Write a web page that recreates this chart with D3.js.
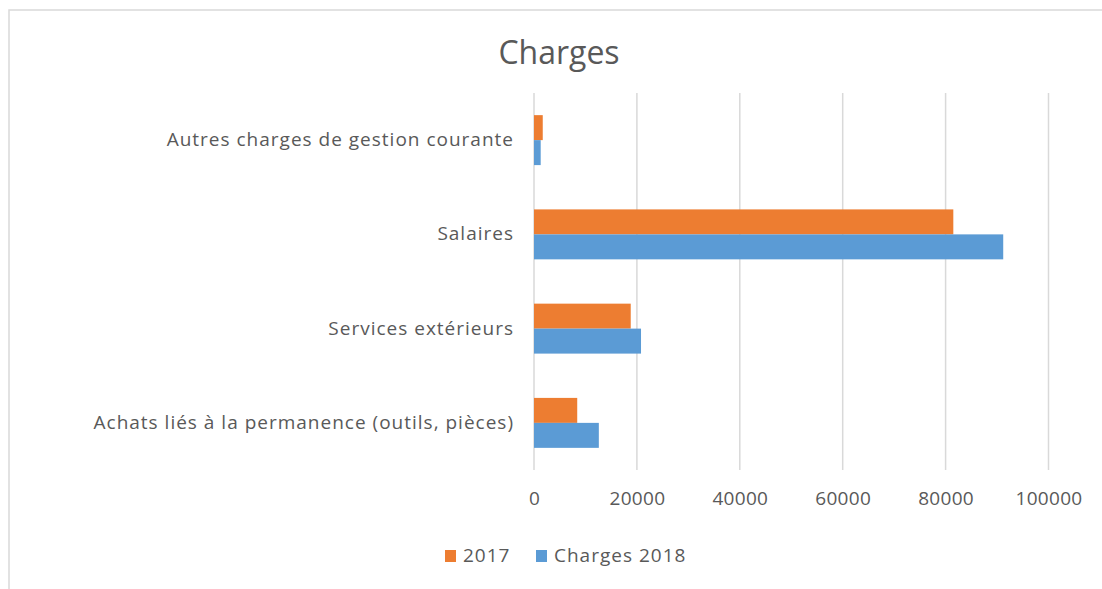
<!DOCTYPE html>
<html>
<head>
<meta charset="utf-8">
<script src="https://cdn.jsdelivr.net/npm/d3@7"></script>
<style>
    body { margin: 0; background: #fff; }
    text { font-family: "Open Sans", "Liberation Sans", sans-serif; fill: #595959; }
</style>
</head>
<body>
<div id="chart"></div>
<script>
// categories, top to bottom as drawn
var categories = [
    "Autres charges de gestion courante",
    "Salaires",
    "Services extérieurs",
    "Achats liés à la permanence (outils, pièces)"
];
var seriesNames = ["2017", "Charges 2018"];
var values2017 = [1700, 81500, 18800, 8400];
var values2018 = [1300, 91200, 20800, 12600];
var xTicks = [0, 20000, 40000, 60000, 80000, 100000];
var colors = ["#ED7D31", "#5B9BD5"];

var width = 1102,
    height = 589;

var svg = d3.select("#chart").append("svg")
    .attr("width", width)
    .attr("height", height);

// chart frame (only top and left edges are visible in the picture)
svg.append("rect")
    .attr("x", 9)
    .attr("y", 10)
    .attr("width", 1200)
    .attr("height", 1000)
    .attr("fill", "none")
    .attr("stroke", "#d9d9d9")
    .attr("stroke-width", 1.5);

var x = d3.scaleLinear().domain([0, 100000]).range([534, 1048.5]);

var y = d3.scaleBand()
    .domain(categories)
    .range([93, 470])
    .paddingInner(0.47)
    .paddingOuter(0.235);

var ySub = d3.scaleBand()
    .domain(seriesNames)
    .range([0, y.bandwidth()]);

var rows = categories.map(function (c, i) {
    return {
        name: c,
        values: [
            { series: seriesNames[0], value: values2017[i], color: colors[0] },
            { series: seriesNames[1], value: values2018[i], color: colors[1] }
        ]
    };
});

// gridlines
svg.append("g")
    .selectAll("line")
    .data(xTicks)
    .join("line")
    .attr("x1", d => x(d))
    .attr("x2", d => x(d))
    .attr("y1", 93)
    .attr("y2", 470)
    .attr("stroke", "#d9d9d9")
    .attr("stroke-width", 1.5);

// bars
svg.append("g")
    .selectAll("g")
    .data(rows)
    .join("g")
    .attr("transform", d => "translate(0," + y(d.name) + ")")
    .selectAll("rect")
    .data(d => d.values)
    .join("rect")
    .attr("x", x(0))
    .attr("y", d => ySub(d.series))
    .attr("width", d => x(d.value) - x(0))
    .attr("height", ySub.bandwidth())
    .attr("fill", d => d.color);

// x axis labels
var xAxis = svg.append("g")
    .attr("transform", "translate(0,470)")
    .call(d3.axisBottom(x).tickValues(xTicks).tickFormat(d3.format("d")).tickSize(0).tickPadding(22));
xAxis.select(".domain").remove();
xAxis.selectAll("text")
    .attr("fill", "#595959")
    .style("font-size", "19px")
    .style("letter-spacing", "0.3px")
    .style("font-family", "'Open Sans', sans-serif");

// category labels
var yAxis = svg.append("g")
    .attr("transform", "translate(534,0)")
    .call(d3.axisLeft(y).tickSize(0).tickPadding(20));
yAxis.select(".domain").remove();
yAxis.selectAll("text")
    .attr("fill", "#595959")
    .style("font-size", "19px")
    .style("letter-spacing", "1px")
    .style("font-family", "'Open Sans', sans-serif");

// title
svg.append("text")
    .attr("x", 559)
    .attr("y", 64)
    .attr("text-anchor", "middle")
    .style("font-size", "32px")
    .text("Charges");

// legend
var legendPos = [445, 536];
var legend = svg.append("g")
    .selectAll("g")
    .data(seriesNames)
    .join("g")
    .attr("transform", (d, i) => "translate(" + legendPos[i] + ",550)");
legend.append("rect")
    .attr("width", 11)
    .attr("height", 12)
    .attr("fill", (d, i) => colors[i]);
legend.append("text")
    .attr("x", 18)
    .attr("y", 12)
    .style("font-size", "19px")
    .style("letter-spacing", "1px")
    .text(d => d);
</script>
</body>
</html>
